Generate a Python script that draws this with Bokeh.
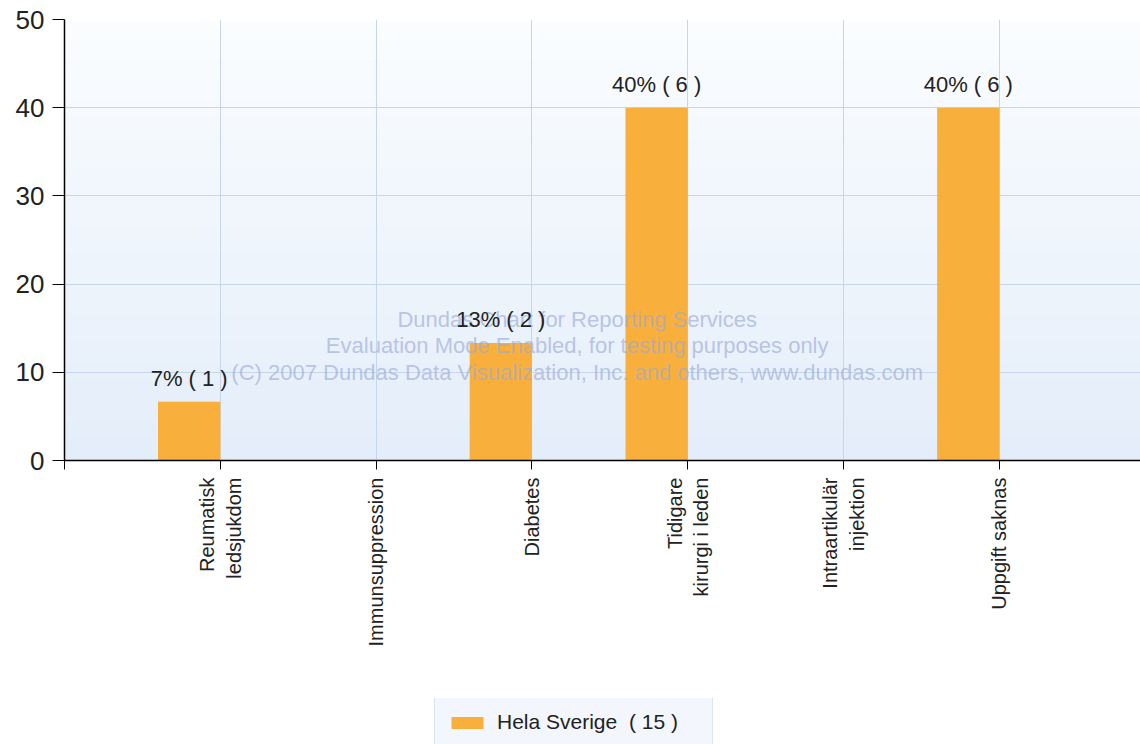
import numpy as np
from bokeh.plotting import figure
from bokeh.layouts import column
from bokeh.models import (ColumnDataSource, FixedTicker, Range1d, LabelSet, Label,
                          Legend, LegendItem)
from bokeh.core.properties import value
from bokeh.embed import file_html
from bokeh.resources import INLINE

# ---- data ----
categories = ["Reumatisk\nledsjukdom", "Immunsuppression", "Diabetes",
              "Tidigare\nkirurgi i leden", "Intraartikulär\ninjektion", "Uppgift saknas"]
cat_positions = [1, 2, 3, 4, 5, 6]
percent_values = [6.67, 0, 13.33, 40, 0, 40]
value_labels = ["7% ( 1 )", "", "13% ( 2 )", "40% ( 6 )", "", "40% ( 6 )"]
y_ticks = [0, 10, 20, 30, 40, 50]
series_name = "Hela Sverige  ( 15 )"
watermark = ("Dundas Chart for Reporting Services\n"
             "Evaluation Mode Enabled, for testing purposes only\n"
             "(C) 2007 Dundas Data Visualization, Inc. and others, www.dundas.com")

FONT = "Liberation Sans"
BAR = "#F9AF3C"
GRID = "#c6d6ec"
TXT = "#222222"

bar_x = [p - 0.2 for p in cat_positions]
src = ColumnDataSource(dict(x=bar_x, top=percent_values, label=value_labels))
lab_idx = [i for i, v in enumerate(percent_values) if v > 0]
lab_src = ColumnDataSource(dict(x=[bar_x[i] for i in lab_idx],
                                y=[percent_values[i] for i in lab_idx],
                                label=[value_labels[i] for i in lab_idx]))

p = figure(width=1140, height=698, output_backend="svg", toolbar_location=None,
           x_range=Range1d(0, 6.905), y_range=Range1d(0, 50),
           min_border_left=64, min_border_top=19, min_border_right=0,
           min_border_bottom=238)
p.outline_line_color = None
p.background_fill_color = "white"
p.border_fill_color = "white"

# background gradient of the plot area
n = 100
top_c = np.array([251, 253, 255], dtype=float)
bot_c = np.array([228, 238, 250], dtype=float)
t = np.linspace(0, 1, n)[:, None]
cols = (bot_c * (1 - t) + top_c * t).astype(np.uint32)
img = np.empty((n, 2), dtype=np.uint32)
view = img.view(dtype=np.uint8).reshape((n, 2, 4))
view[:, :, 0] = cols[:, 0][:, None]
view[:, :, 1] = cols[:, 1][:, None]
view[:, :, 2] = cols[:, 2][:, None]
view[:, :, 3] = 255
bg = p.image_rgba(image=[img], x=0, y=0, dw=7, dh=50)
bg.level = "image"

bars = p.vbar(x="x", top="top", bottom=0, width=0.4, source=src,
              fill_color=BAR, line_color=None)

# axes
p.xaxis.ticker = FixedTicker(ticks=[0, 1, 2, 3, 4, 5, 6, 7])
overrides = {0: "", 7: ""}
for pos, c in zip(cat_positions, categories):
    overrides[pos] = c
p.xaxis.major_label_overrides = overrides
p.xaxis.major_label_orientation = np.pi / 2
p.xaxis.major_label_text_font = FONT
p.xaxis.major_label_text_font_size = "20px"
p.xaxis.major_label_text_color = TXT
p.xaxis.major_tick_out = 9
p.xaxis.major_tick_in = 0
p.xaxis.minor_tick_line_color = None
p.xaxis.major_label_standoff = 8
p.xaxis.axis_line_color = "black"
p.xaxis.axis_line_width = 1.5

p.yaxis.ticker = FixedTicker(ticks=y_ticks)
p.yaxis.major_label_text_font = FONT
p.yaxis.major_label_text_font_size = "26px"
p.yaxis.major_label_text_color = TXT
p.yaxis.major_tick_out = 12
p.yaxis.major_tick_in = 0
p.yaxis.minor_tick_line_color = None
p.yaxis.major_label_standoff = 8
p.yaxis.axis_line_color = "black"
p.yaxis.axis_line_width = 1.5

p.xgrid.ticker = FixedTicker(ticks=cat_positions)
p.xgrid.grid_line_color = GRID
p.ygrid.grid_line_color = GRID

# watermark
p.add_layout(Label(x=3.29, y=13.0, text=watermark, text_align="center",
                   text_baseline="middle", text_font=FONT, text_font_size="22px",
                   text_line_height=1.07,
                   text_color="#9aabd6", text_alpha=0.65))

# value labels
p.add_layout(LabelSet(x="x", y="y", text="label", source=lab_src, y_offset=11,
                      text_align="center", text_baseline="bottom",
                      text_font=value(FONT), text_font_size=value("22px"),
                      text_color=TXT))

# ---- legend strip (separate small figure) ----
p2 = figure(width=1140, height=46, output_backend="svg", toolbar_location=None,
            x_range=Range1d(0, 1), y_range=Range1d(0, 1),
            min_border_left=0, min_border_right=0, min_border_top=0,
            min_border_bottom=0)
p2.axis.visible = False
p2.grid.visible = False
p2.outline_line_color = None
p2.border_fill_color = "white"
p2.background_fill_color = "white"
swatch = p2.vbar(x=[0.5], top=[0], bottom=0, width=0.4, fill_color=BAR,
                 line_color=None)
legend = Legend(items=[LegendItem(label=series_name, renderers=[swatch])],
                location=(370, -3), orientation="horizontal",
                label_text_font=FONT, label_text_font_size="21px",
                label_text_color=TXT, glyph_width=40, glyph_height=15,
                label_standoff=10, label_width=203, padding=12, margin=0,
                border_line_color="#c4d2e6", background_fill_color="#f3f7fd",
                background_fill_alpha=1.0)
p2.add_layout(legend, "center")

layout = column(p, p2, spacing=0)
open("out.html", "w").write(file_html(layout, INLINE))
